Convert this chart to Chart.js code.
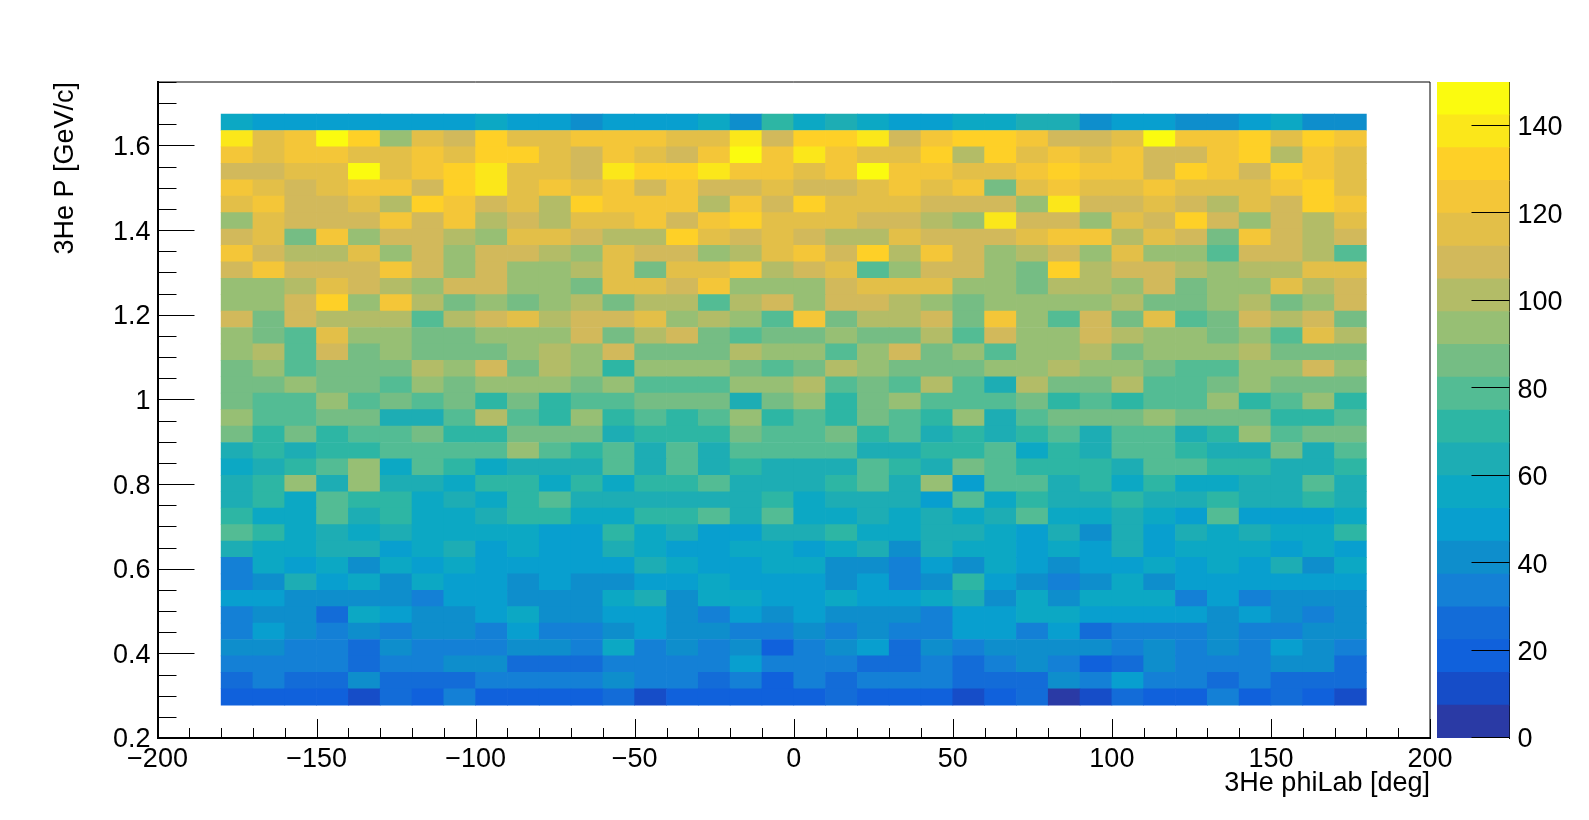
<!DOCTYPE html>
<html>
<head>
<meta charset="utf-8">
<script src="https://cdn.jsdelivr.net/npm/chart.js@4"></script>
<style>
  html, body { margin: 0; padding: 0; background: #fff; overflow: hidden; }
  canvas { position: absolute; top: 0; display: block; }
</style>
</head>
<body>
<canvas id="main" width="1589" height="820" style="left:0"></canvas>
<canvas id="palette" width="152" height="820" style="left:1437px"></canvas>
<script>
// axis ticks
const xMajor = [-200, -150, -100, -50, 0, 50, 100, 150, 200];
const yMajor = [0.2, 0.4, 0.6, 0.8, 1, 1.2, 1.4, 1.6];
const zMajor = [0, 20, 40, 60, 80, 100, 120, 140];

// phi bin centres [deg]
const phiBins = [-175, -165, -155, -145, -135, -125, -115, -105, -95, -85, -75, -65,
  -55, -45, -35, -25, -15, -5, 5, 15, 25, 35, 45, 55,
  65, 75, 85, 95, 105, 115, 125, 135, 145, 155, 165, 175];

// momentum bins
const pStart = 0.2775;
const pWidth = 0.0388;

// counts per momentum row, lowest P first
const row01 = [19,19,19,19,11,26,19,34,19,19,19,19,26,11,19,19,19,19,19,26,19,19,19,11,19,26,4,11,26,19,19,34,19,26,19,11];
const row02 = [26,34,26,26,41,26,26,26,34,34,34,34,41,34,34,26,34,19,34,26,34,34,34,26,26,26,41,34,49,34,34,26,34,26,26,26];
const row03 = [34,34,34,34,26,34,34,41,41,26,26,26,34,34,34,34,49,34,34,34,26,26,34,26,34,41,34,19,26,41,34,34,34,41,41,26];
const row04 = [41,41,34,34,26,41,34,34,34,41,41,34,56,34,41,34,41,19,34,41,49,26,41,34,41,41,41,41,34,41,34,41,34,49,41,34];
const row05 = [34,49,41,34,41,34,41,41,34,49,34,34,41,49,41,41,34,34,41,34,41,34,34,49,49,34,49,26,34,34,34,41,34,34,41,41];
const row06 = [34,41,41,26,56,49,41,41,49,56,41,41,49,49,41,34,49,41,49,41,41,41,34,49,49,56,56,49,49,49,49,41,49,41,34,41];
const row07 = [49,49,41,41,41,41,34,49,49,41,41,41,56,64,41,56,56,49,49,56,49,49,56,64,41,56,41,56,56,56,34,49,34,41,41,41];
const row08 = [34,41,64,49,56,41,56,49,49,41,49,41,41,49,49,56,49,49,49,41,49,34,41,71,49,41,34,41,56,41,49,49,49,49,49,49];
const row09 = [34,56,49,56,41,56,49,56,49,49,49,49,49,64,56,49,49,56,56,41,41,34,49,41,56,49,41,49,49,56,49,56,49,64,41,56];
const row10 = [64,56,56,64,64,49,56,64,49,56,49,49,64,56,49,49,56,56,49,56,64,41,64,56,56,49,56,49,64,49,56,56,56,49,56,49];
const row11 = [79,71,56,64,56,64,56,56,56,56,49,49,71,56,64,49,49,64,64,71,56,56,64,64,56,49,64,41,64,49,64,56,64,56,56,71];
const row12 = [71,56,56,79,64,71,56,56,64,71,71,56,56,71,71,79,64,79,56,56,64,56,64,56,64,79,56,56,64,56,49,79,49,49,49,56];
const row13 = [64,71,56,79,71,71,56,64,56,71,79,64,64,64,64,64,64,71,56,64,64,64,49,79,56,71,64,64,71,64,64,71,64,64,71,64];
const row14 = [64,71,94,64,94,64,64,56,71,71,56,71,56,71,71,79,64,64,64,71,79,64,94,49,79,79,64,71,56,71,56,56,64,64,79,64];
const row15 = [56,64,71,79,94,56,79,71,56,64,64,64,79,64,79,64,71,64,64,64,79,71,64,86,79,71,71,71,64,79,79,71,71,64,64,71];
const row16 = [64,71,64,71,71,79,79,79,79,94,79,71,79,64,79,64,79,79,79,79,64,64,71,71,79,56,71,64,79,79,71,64,64,86,64,79];
const row17 = [86,71,86,71,79,79,86,71,71,86,86,86,64,71,71,71,86,79,79,86,71,79,64,71,64,71,79,64,79,79,64,71,94,79,86,86];
const row18 = [94,79,79,86,86,64,64,79,101,79,71,94,71,79,71,79,94,71,79,71,86,79,71,94,64,79,86,86,86,94,86,86,86,71,71,79];
const row19 = [86,79,79,94,79,86,79,86,71,86,71,79,79,86,86,86,64,86,94,71,86,94,79,79,79,86,71,79,71,79,79,94,71,79,94,71];
const row20 = [86,86,94,86,86,79,94,86,94,94,94,86,94,79,79,79,94,94,101,79,86,79,101,79,64,101,86,86,101,79,79,86,94,86,86,86];
const row21 = [86,94,79,86,86,86,101,94,109,86,101,94,71,94,94,94,86,79,86,101,94,86,86,86,94,94,101,94,94,86,79,79,94,94,109,94];
const row22 = [94,101,79,109,86,94,86,86,86,94,101,94,109,86,86,86,101,94,94,79,94,109,86,94,79,94,94,101,86,94,94,94,101,86,86,86];
const row23 = [94,86,79,116,94,94,86,86,94,94,94,109,86,101,109,86,79,86,86,94,86,86,101,79,109,94,94,109,101,94,94,86,94,79,116,101];
const row24 = [109,86,109,101,101,101,79,101,109,116,101,109,109,116,94,101,94,79,124,86,101,101,109,86,124,94,79,109,86,116,79,86,109,101,109,86];
const row25 = [94,94,109,131,94,124,101,86,94,86,94,101,86,101,101,79,101,109,94,109,109,101,94,86,94,94,94,94,101,86,86,94,101,86,94,109];
const row26 = [94,94,101,116,109,101,94,109,109,94,94,86,116,116,109,124,94,94,94,109,116,116,116,94,94,86,101,101,94,109,86,94,94,116,101,109];
const row27 = [109,124,109,109,109,124,109,94,109,94,94,101,116,86,116,116,124,101,109,116,79,94,109,109,94,86,131,101,109,109,101,94,101,101,116,116];
const row28 = [124,109,101,101,116,94,109,94,109,109,101,94,116,109,109,94,101,116,124,109,131,101,124,109,94,101,109,94,116,94,94,79,109,109,101,79];
const row29 = [109,116,86,124,94,109,109,101,94,116,116,109,101,101,131,116,109,116,109,101,101,116,109,109,109,116,124,124,101,116,109,86,124,109,101,109];
const row30 = [94,116,109,109,109,124,109,124,101,109,101,116,116,124,109,124,131,116,116,116,109,109,101,94,139,109,109,94,116,109,131,109,94,109,101,116];
const row31 = [116,124,109,109,116,101,131,124,109,116,101,131,124,124,124,101,124,109,131,116,116,116,109,109,109,94,139,109,109,116,109,101,116,109,131,124];
const row32 = [124,116,109,116,124,124,109,131,139,116,124,116,124,109,124,109,109,116,109,109,116,124,116,124,86,116,124,116,116,124,116,116,116,124,131,116];
const row33 = [109,109,116,116,146,116,124,131,139,116,116,109,139,131,131,139,124,124,116,124,146,124,124,116,116,124,131,124,124,109,131,124,109,131,124,116];
const row34 = [124,116,124,124,116,116,124,116,131,131,116,109,124,116,109,124,146,124,139,124,116,116,131,101,131,116,124,116,124,109,109,124,131,101,124,116];
const row35 = [139,116,124,146,131,94,116,109,131,116,116,124,124,124,116,116,139,109,131,131,139,109,124,131,131,124,109,109,116,146,124,124,131,116,131,124];
const row36 = [56,49,49,49,49,49,49,49,56,49,49,41,49,49,49,56,41,71,56,64,56,49,49,56,56,64,64,41,49,49,41,41,49,56,41,41];

const rows = [row01, row02, row03, row04, row05, row06, row07, row08, row09, row10, row11, row12,
  row13, row14, row15, row16, row17, row18, row19, row20, row21, row22, row23, row24,
  row25, row26, row27, row28, row29, row30, row31, row32, row33, row34, row35, row36];

// bird palette, 20 contour levels from 0 to 150
const levelColors = ['#2a3aa5', '#164dc8', '#1061dc', '#136cd8', '#1480d6', '#0e8ecc', '#089fcf', '#0ca8c4',
  '#1dadb4', '#2db6a4', '#53bc94', '#75bd84', '#97bf74', '#b3bc67', '#d2b95b', '#e3bf48',
  '#f4c638', '#fed027', '#fbe71a', '#fbfb0f'];
const zMax = 150;
const levelSize = zMax / levelColors.length;

function colorFor(v) {
  return levelColors[Math.min(levelColors.length - 1, Math.floor(v / levelSize))];
}

Chart.defaults.font.family = '"Liberation Sans", Arial, sans-serif';
Chart.defaults.font.size = 27;
Chart.defaults.color = '#000';
Chart.defaults.animation = false;

const AREA = { left: 157.5, right: 1430, top: 82, bottom: 738 };

// ROOT style inward ticks, plus the thin top and right frame
const rootFrame = {
  id: 'rootFrame',
  afterDraw(chart) {
    const { ctx, scales: { x, y }, chartArea: a } = chart;
    ctx.save();
    ctx.strokeStyle = '#000';
    ctx.lineWidth = 1;
    ctx.beginPath();
    ctx.moveTo(a.left, a.top);
    ctx.lineTo(a.right, a.top);
    ctx.lineTo(a.right, a.bottom);
    for (let v = -200; v <= 200; v += 10) {
      const px = Math.round(x.getPixelForValue(v)) + 0.5;
      ctx.moveTo(px, a.bottom);
      ctx.lineTo(px, a.bottom - (xMajor.includes(v) ? 19 : 10));
    }
    for (let i = 0; i <= 31; i++) {
      const py = Math.round(y.getPixelForValue(0.2 + i * 0.05)) + 0.5;
      ctx.moveTo(a.left, py);
      ctx.lineTo(a.left + (i % 4 === 0 ? 37 : 19), py);
    }
    ctx.stroke();
    ctx.restore();
  }
};

new Chart(document.getElementById('main'), {
  type: 'bar',
  data: {
    datasets: rows.map((row, i) => ({
      data: row.map((v, k) => ({ x: phiBins[k], y: [pStart + i * pWidth, pStart + (i + 1) * pWidth] })),
      backgroundColor: row.map(colorFor),
      borderWidth: 0,
      grouped: false,
      barPercentage: 1,
      categoryPercentage: 1
    }))
  },
  options: {
    responsive: false,
    devicePixelRatio: 1,
    layout: { padding: { left: 0, top: AREA.top, right: 1589 - AREA.right, bottom: 0 } },
    plugins: { legend: { display: false }, tooltip: { enabled: false } },
    scales: {
      x: {
        type: 'linear',
        offset: false,
        min: -200,
        max: 200,
        afterBuildTicks: s => { s.ticks = xMajor.map(v => ({ value: v })); },
        afterFit: s => { s.height = 820 - AREA.bottom; },
        grid: { display: false, drawTicks: false },
        border: { display: true, color: '#000', width: 2 },
        ticks: { padding: 5, maxRotation: 0, autoSkip: false, callback: v => String(v).replace('-', '\u2212') },
        title: { display: true, text: '3He phiLab [deg]', align: 'end', padding: { top: 0, bottom: 20 } }
      },
      y: {
        type: 'linear',
        min: 0.2,
        max: 1.75,
        afterBuildTicks: s => { s.ticks = yMajor.map(v => ({ value: v })); },
        afterFit: s => { s.width = AREA.left; },
        grid: { display: false, drawTicks: false },
        border: { display: true, color: '#000', width: 2 },
        ticks: { padding: 7, labelOffset: 2, autoSkip: false, callback: v => String(v) },
        title: { display: true, text: '3He P [GeV/c]', align: 'end', padding: { top: 49, bottom: 0 } }
      }
    }
  },
  plugins: [rootFrame]
});

// colour scale on the right
const paletteTicks = {
  id: 'paletteTicks',
  afterDraw(chart) {
    const { ctx, scales: { y }, chartArea: a } = chart;
    ctx.save();
    ctx.strokeStyle = '#000';
    ctx.lineWidth = 1;
    ctx.beginPath();
    zMajor.forEach(v => {
      const py = Math.round(y.getPixelForValue(v)) - 0.5;
      ctx.moveTo(a.right, py);
      ctx.lineTo(a.right - 38, py);
    });
    ctx.stroke();
    ctx.restore();
  }
};

new Chart(document.getElementById('palette'), {
  type: 'bar',
  data: {
    labels: ['z'],
    datasets: levelColors.map((c, i) => ({
      data: [[i * levelSize, (i + 1) * levelSize]],
      backgroundColor: c,
      borderWidth: 0,
      grouped: false,
      barPercentage: 1,
      categoryPercentage: 1
    }))
  },
  options: {
    responsive: false,
    devicePixelRatio: 1,
    layout: { padding: { left: 0, top: AREA.top, right: 0, bottom: 820 - AREA.bottom } },
    plugins: { legend: { display: false }, tooltip: { enabled: false } },
    scales: {
      x: { display: false, offset: true },
      y: {
        position: 'right',
        min: 0,
        max: zMax,
        afterBuildTicks: s => { s.ticks = zMajor.map(v => ({ value: v })); },
        afterFit: s => { s.width = 152 - 72.5; },
        grid: { display: false, drawTicks: false },
        border: { display: true, color: '#000', width: 1 },
        ticks: { padding: 8, labelOffset: 2, autoSkip: false }
      }
    }
  },
  plugins: [paletteTicks]
});
</script>
</body>
</html>
